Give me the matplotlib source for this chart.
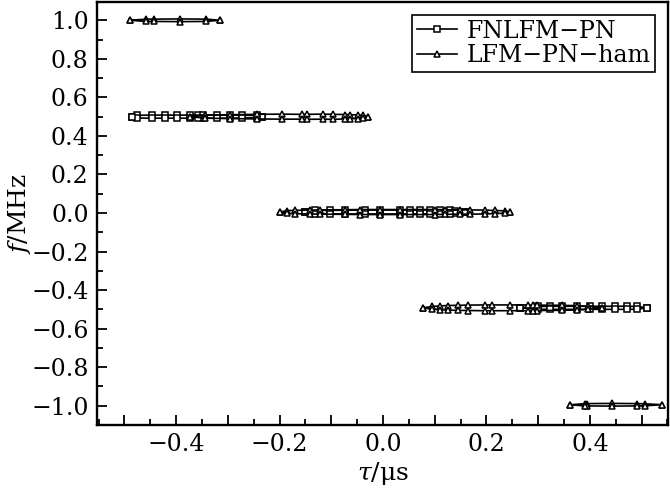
import numpy as np
import matplotlib.pyplot as plt
from matplotlib.ticker import MultipleLocator, FuncFormatter

plt.rcParams['font.family'] = 'DejaVu Serif'
plt.rcParams['mathtext.fontset'] = 'dejavuserif'

# FNLFM-PN contours: x (tau, us), upper and lower edge (f, MHz)
fn_p05_x = [-0.486, -0.476, -0.447, -0.422, -0.398, -0.373, -0.358, -0.348,
            -0.321, -0.296, -0.273, -0.244, -0.234]
fn_p05_hi = [0.500, 0.507, 0.508, 0.508, 0.508, 0.508, 0.508, 0.508,
             0.508, 0.508, 0.507, 0.506, 0.500]
fn_p05_lo = [0.500, 0.493, 0.492, 0.492, 0.492, 0.492, 0.492, 0.492,
             0.492, 0.492, 0.493, 0.494, 0.500]

fn_00_x = [-0.151, -0.132, -0.103, -0.073, -0.035, -0.006, 0.033, 0.052,
           0.072, 0.091, 0.110, 0.130, 0.139, 0.159]
fn_00_hi = [0.005, 0.013, 0.014, 0.014, 0.015, 0.015, 0.015, 0.015,
            0.015, 0.015, 0.014, 0.013, 0.012, 0.005]
fn_00_lo = [0.005, -0.003, -0.004, -0.005, -0.005, -0.005, -0.005, -0.005,
            -0.005, -0.005, -0.004, -0.003, -0.002, 0.005]

fn_m05_x = [0.265, 0.300, 0.323, 0.346, 0.375, 0.400, 0.424, 0.449,
            0.472, 0.491, 0.511]
fn_m05_hi = [-0.492, -0.485, -0.484, -0.484, -0.484, -0.484, -0.484, -0.484,
             -0.484, -0.485, -0.492]
fn_m05_lo = [-0.492, -0.499, -0.500, -0.500, -0.500, -0.500, -0.500, -0.500,
             -0.500, -0.499, -0.492]

# LFM-PN-ham contours
ham_p10_x = [-0.489, -0.458, -0.443, -0.393, -0.342, -0.315]
ham_p10_hi = [1.000, 1.006, 1.006, 1.007, 1.006, 1.000]
ham_p10_lo = [1.000, 0.994, 0.994, 0.993, 0.994, 1.000]

ham_p05_x = [-0.373, -0.344, -0.296, -0.244, -0.195, -0.157, -0.147, -0.116,
             -0.097, -0.074, -0.064, -0.048, -0.039, -0.029]
ham_p05_hi = [0.500, 0.508, 0.510, 0.512, 0.513, 0.512, 0.512, 0.513,
              0.512, 0.511, 0.510, 0.509, 0.506, 0.500]
ham_p05_lo = [0.500, 0.492, 0.490, 0.488, 0.487, 0.487, 0.486, 0.487,
              0.486, 0.488, 0.489, 0.490, 0.494, 0.500]

ham_00_x = [-0.199, -0.186, -0.170, -0.141, -0.122, -0.073, -0.044, -0.006,
            0.033, 0.101, 0.120, 0.149, 0.168, 0.197, 0.217, 0.236, 0.246]
ham_00_hi = [0.005, 0.012, 0.014, 0.015, 0.016, 0.017, 0.018, 0.018,
             0.018, 0.018, 0.017, 0.016, 0.016, 0.015, 0.013, 0.011, 0.005]
ham_00_lo = [0.005, -0.002, -0.004, -0.005, -0.006, -0.007, -0.008, -0.008,
             -0.008, -0.008, -0.007, -0.006, -0.006, -0.005, -0.003, -0.001, 0.005]

ham_m05_x = [0.077, 0.095, 0.110, 0.126, 0.145, 0.164, 0.197, 0.211, 0.246,
             0.281, 0.290, 0.298, 0.346, 0.375, 0.397, 0.424]
ham_m05_hi = [-0.492, -0.485, -0.482, -0.480, -0.479, -0.478, -0.477, -0.477,
              -0.477, -0.477, -0.478, -0.478, -0.479, -0.481, -0.484, -0.492]
ham_m05_lo = [-0.492, -0.499, -0.502, -0.504, -0.505, -0.506, -0.507, -0.507,
              -0.507, -0.507, -0.506, -0.506, -0.505, -0.503, -0.500, -0.492]

ham_m10_x = [0.362, 0.391, 0.395, 0.443, 0.491, 0.507, 0.540]
ham_m10_hi = [-0.995, -0.989, -0.989, -0.988, -0.989, -0.990, -0.995]
ham_m10_lo = [-0.995, -1.001, -1.001, -1.002, -1.001, -1.000, -0.995]

fn_contours = [(fn_p05_x, fn_p05_hi, fn_p05_lo),
               (fn_00_x, fn_00_hi, fn_00_lo),
               (fn_m05_x, fn_m05_hi, fn_m05_lo)]
ham_contours = [(ham_p10_x, ham_p10_hi, ham_p10_lo),
                (ham_p05_x, ham_p05_hi, ham_p05_lo),
                (ham_00_x, ham_00_hi, ham_00_lo),
                (ham_m05_x, ham_m05_hi, ham_m05_lo),
                (ham_m10_x, ham_m10_hi, ham_m10_lo)]


def closed(x, hi, lo):
    x = np.asarray(x)
    return np.r_[x, x[::-1]], np.r_[hi, lo[::-1]]


fig = plt.figure(figsize=(6.7, 4.94), dpi=100)
ax = fig.add_axes([0.1448, 0.1397, 0.8522, 0.8563])

style = dict(color='black', lw=1.2, mfc='white', mec='black', mew=1.1)
for i, (x, hi, lo) in enumerate(fn_contours):
    cx, cy = closed(x, hi, lo)
    ax.plot(cx, cy, marker='s', ms=4.5, label='FNLFM\u2212PN' if i == 0 else None, **style)
for i, (x, hi, lo) in enumerate(ham_contours):
    cx, cy = closed(x, hi, lo)
    ax.plot(cx, cy, marker='^', ms=5, label='LFM\u2212PN\u2212ham' if i == 0 else None, **style)

ax.set_xlim(-0.553, 0.551)
ax.set_ylim(-1.10, 1.095)

ax.xaxis.set_major_locator(MultipleLocator(0.1))
ax.xaxis.set_minor_locator(MultipleLocator(0.05))
ax.yaxis.set_major_locator(MultipleLocator(0.2))
ax.yaxis.set_minor_locator(MultipleLocator(0.1))


def xfmt(v, pos):
    k = int(round(v * 10))
    if k % 2:
        return ''
    return ('%.1f' % (k / 10)).replace('-', '\u2212')


def yfmt(v, pos):
    return ('%.1f' % v).replace('-', '\u2212') if abs(v) > 1e-9 else '0.0'


ax.xaxis.set_major_formatter(FuncFormatter(xfmt))
ax.yaxis.set_major_formatter(FuncFormatter(yfmt))
ax.tick_params(which='both', direction='in', top=False, right=False,
               labelsize=17, width=1.3)
ax.tick_params(which='major', length=7, pad=6)
ax.tick_params(which='minor', length=4)
for sp in ax.spines.values():
    sp.set_linewidth(1.7)

ax.set_xlabel('$\\tau$/\u03bcs', fontsize=18, labelpad=3)
ax.set_ylabel('$f$/MHz', fontsize=18, labelpad=-1)

leg = ax.legend(loc='upper right', fontsize=17, frameon=True, fancybox=False,
                edgecolor='black', framealpha=1, handlelength=1.7,
                handletextpad=0.4, borderpad=0.2, labelspacing=0.05,
                borderaxespad=0.55)
leg.get_frame().set_linewidth(1.2)

fig.savefig('out.png', dpi=100)
